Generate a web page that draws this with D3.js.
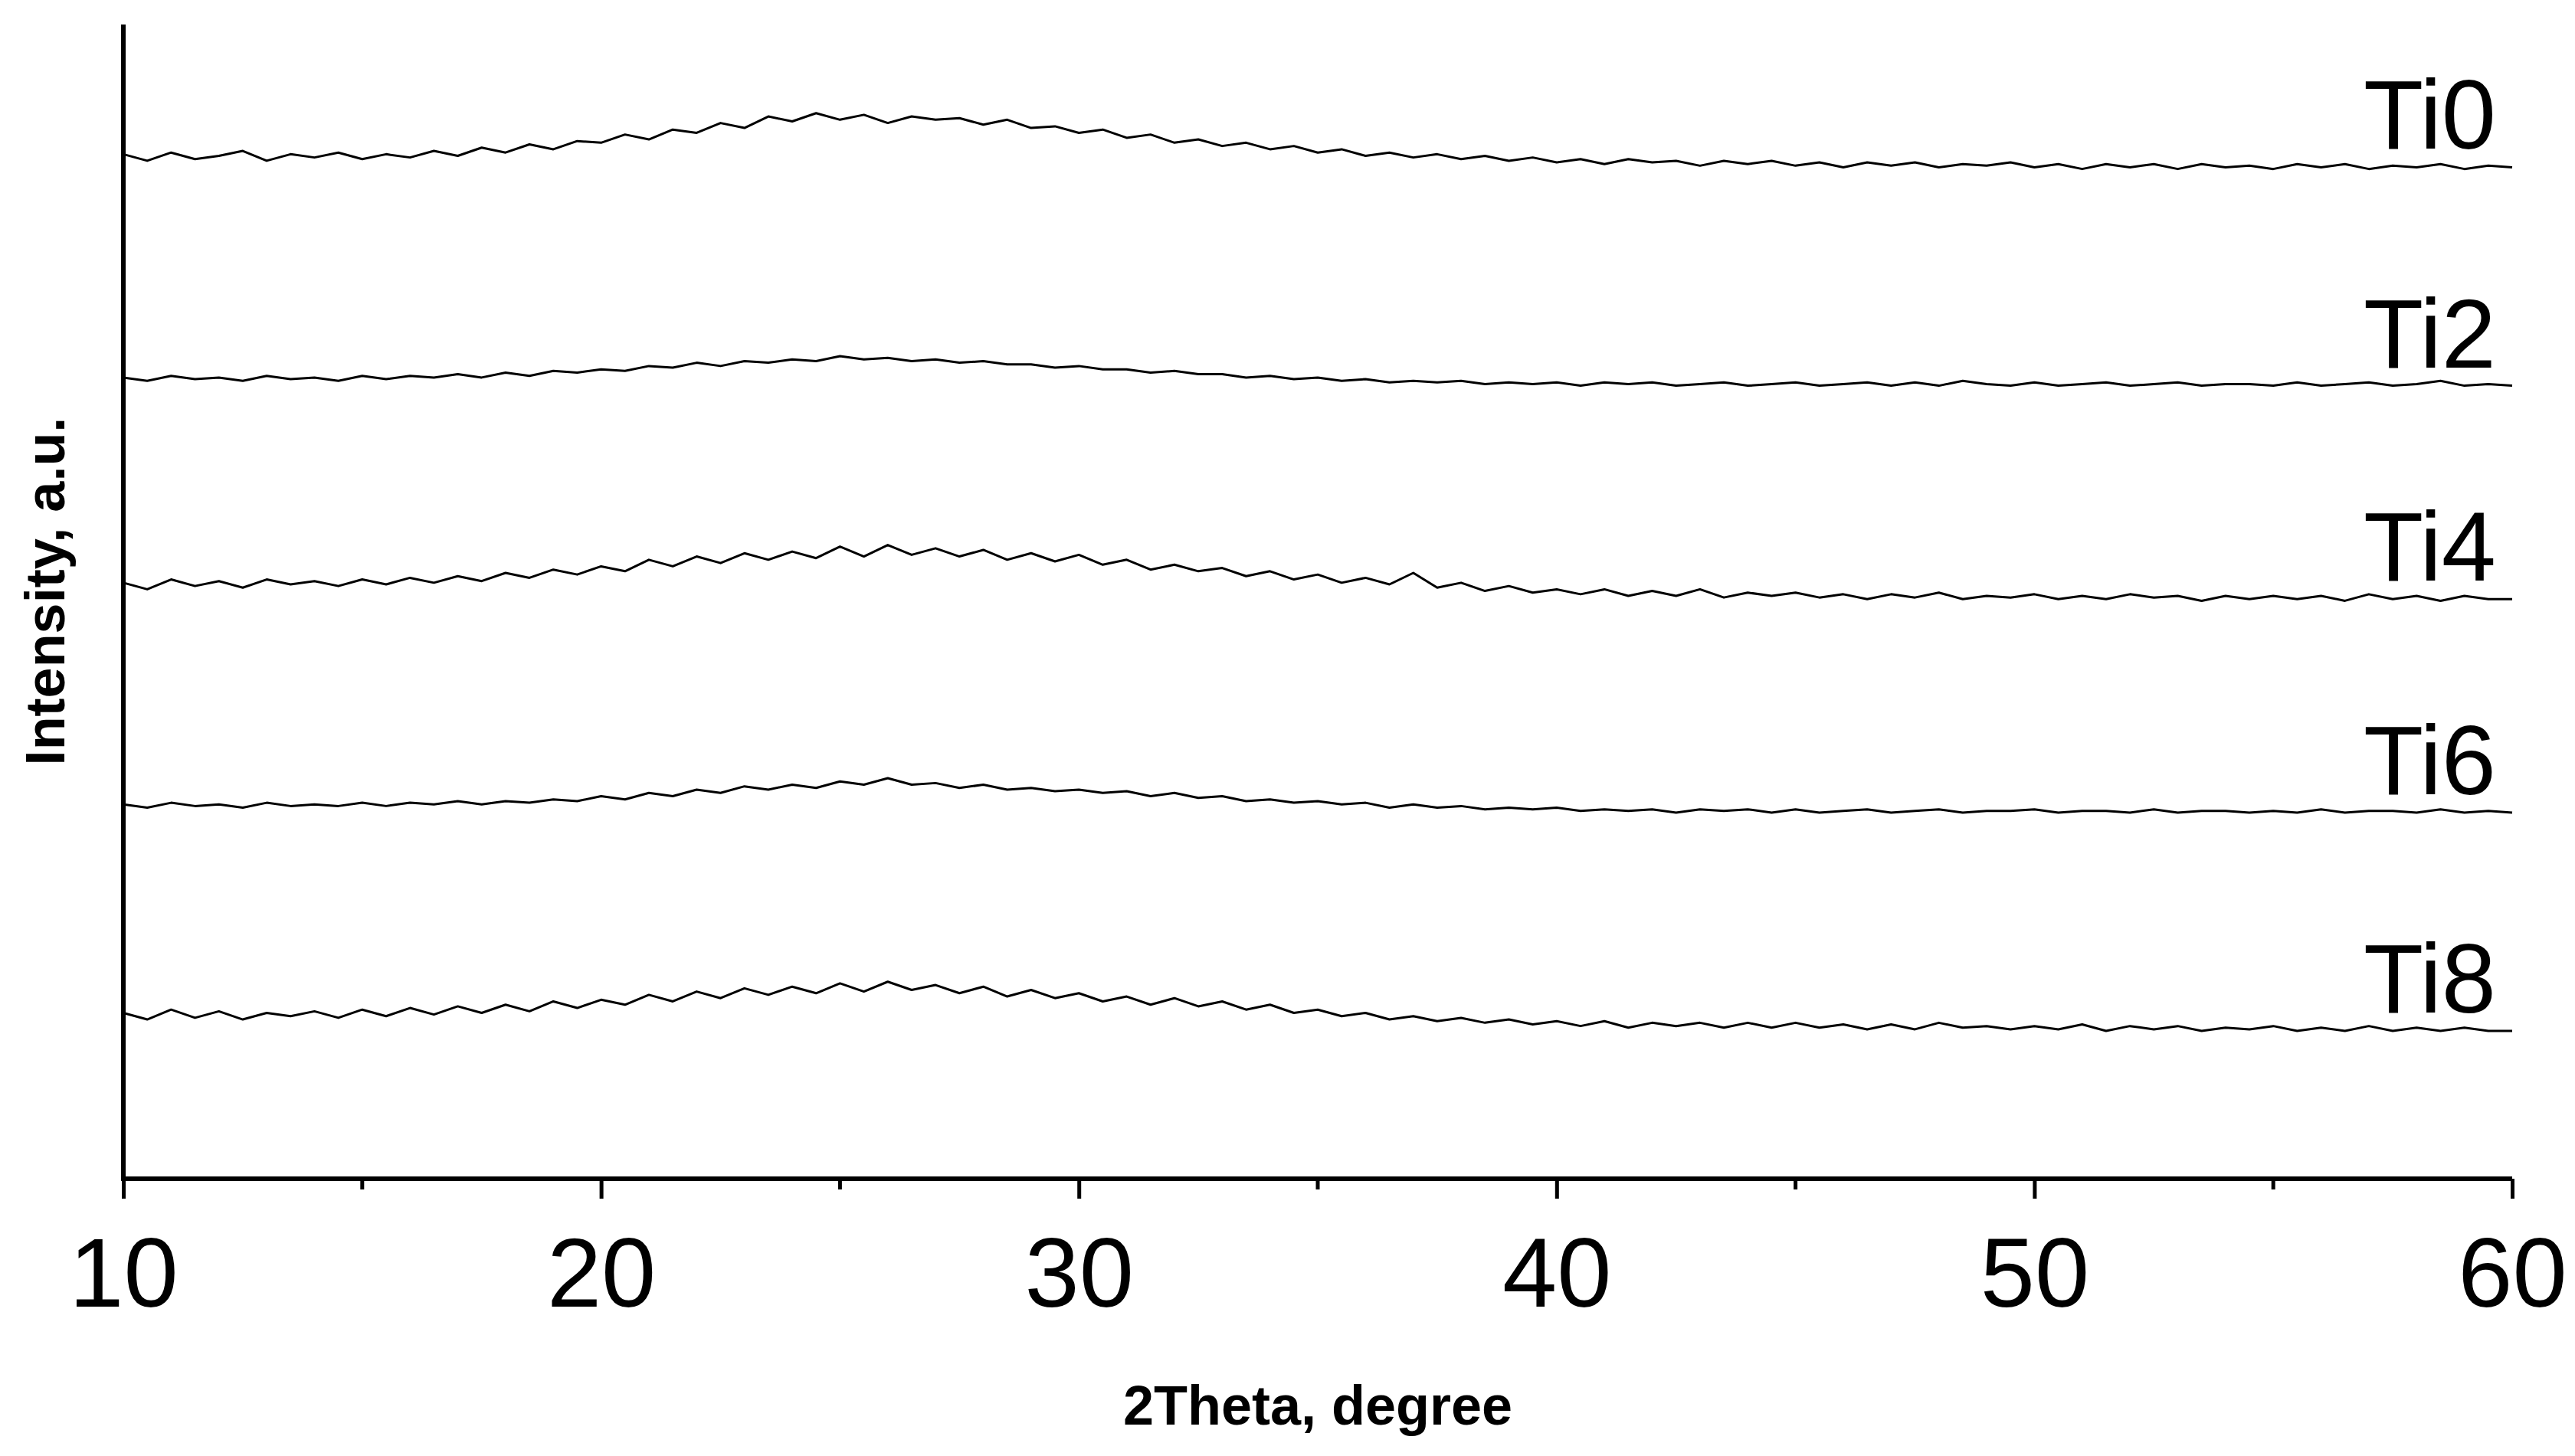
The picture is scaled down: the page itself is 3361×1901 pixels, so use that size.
<!DOCTYPE html>
<html><head><meta charset="utf-8">
<script src="https://cdn.jsdelivr.net/npm/d3@7"></script>
<style>body{margin:0;background:#fff}</style></head>
<body><svg id="c" width="3361" height="1901"></svg>
<script>
const seriesNames=["Ti0","Ti2","Ti4","Ti6","Ti8"];
const offsets=[616,483,353,223,90];
const xStart=10, xStep=0.5;
const xTicks=[10,20,30,40,50,60];
const minorTicks=[15,25,35,45,55];
const Ti0=[8,4,9,5,7,10,4,8,6,9, 5,8,6,10,7,12,9,14,11,16, 15,20,17,23,21,27,24,31,28,33, 29,32,27,31,29,30,26,29,24,25, 21,23,18,20,15,17,13,15,11,13, 9,11,7,9,6,8,5,7,4,6, 3,5,2,5,3,4,1,4,2,4, 1,3,0,3,1,3,0,2,1,3, 0,2,-1,2,0,2,-1,2,0,1, -1,2,0,2,-1,1,0,2,-1,1, 0];
const Ti2=[5,3,6,4,5,3,6,4,5,3, 6,4,6,5,7,5,8,6,9,8, 10,9,12,11,14,12,15,14,16,15, 18,16,17,15,16,14,15,13,13,11, 12,10,10,8,9,7,7,5,6,4, 5,3,4,2,3,2,3,1,2,1, 2,0,2,1,2,0,1,2,0,1, 2,0,1,2,0,2,0,3,1,0, 2,0,1,2,0,1,2,0,1,1, 0,2,0,1,2,0,1,3,0,1, 0];
const Ti4=[10,6,12,8,11,7,12,9,11,8, 12,9,13,10,14,11,16,13,18,15, 20,17,24,20,26,22,28,24,29,25, 32,26,33,27,31,26,30,24,28,23, 27,21,24,18,21,17,19,14,17,12, 15,10,13,9,16,7,10,5,8,4, 6,3,6,2,5,2,6,1,4,2, 4,1,3,0,3,1,4,0,2,1, 3,0,2,0,3,1,2,-1,2,0, 2,0,2,-1,3,0,2,-1,2,0, 0];
const Ti6=[5,3,6,4,5,3,6,4,5,4, 6,4,6,5,7,5,7,6,8,7, 10,8,12,10,14,12,16,14,17,15, 19,17,21,17,18,15,17,14,15,13, 14,12,13,10,12,9,10,7,8,6, 7,5,6,3,5,3,4,2,3,2, 3,1,2,1,2,0,2,1,2,0, 2,0,1,2,0,1,2,0,1,1, 2,0,1,1,0,2,0,1,1,0, 1,0,2,0,1,1,0,2,0,1, 0];
const Ti8=[11,7,13,8,12,7,11,9,12,8, 13,9,14,10,15,11,16,12,18,14, 19,16,22,18,24,20,26,22,27,23, 29,24,30,25,28,23,27,21,25,20, 23,18,21,16,20,15,18,13,16,11, 13,9,11,7,9,6,8,5,7,4, 6,3,6,2,5,3,5,2,5,2, 5,2,4,1,4,1,5,2,3,1, 3,1,4,0,3,1,3,0,2,1, 3,0,2,0,3,0,2,0,2,0, 0];
const allSeries=[Ti0,Ti2,Ti4,Ti6,Ti8];

const svg=d3.select("#c");
const x=d3.scaleLinear().domain([10,60]).range([161,3279]);
const y=d3.scaleLinear().domain([0,703]).range([1539,32]);
const font="Liberation Sans, Arial, sans-serif";

const line=d3.line().x((d,i)=>x(xStart+i*xStep)).y(d=>y(d));
allSeries.forEach((s,k)=>{
  const vals=s.map(v=>v+offsets[k]);
  svg.append("path").attr("d",line(vals)).attr("fill","none").attr("stroke","#000").attr("stroke-width",3).attr("stroke-linejoin","round");
  svg.append("text").attr("x",3258).attr("y",y(offsets[k])-24)
    .attr("text-anchor","end").attr("font-family",font).attr("font-size",128).text(seriesNames[k]);
});

const xa=svg.append("g").attr("transform","translate(0,1539)")
  .call(d3.axisBottom(x).tickValues(xTicks).tickSize(26).tickPadding(50).tickFormat(d3.format("d")));
xa.select(".domain").attr("stroke-width",6).attr("d","M161,0H3279");
xa.selectAll(".tick line").attr("stroke-width",5);
xa.selectAll("text").attr("font-family",font).attr("font-size",128);
svg.append("g").attr("transform","translate(0,1539)").selectAll("line").data(minorTicks).join("line")
  .attr("x1",d=>x(d)).attr("x2",d=>x(d)).attr("y1",0).attr("y2",14).attr("stroke","#000").attr("stroke-width",5);
svg.append("line").attr("x1",161).attr("x2",161).attr("y1",32).attr("y2",1542).attr("stroke","#000").attr("stroke-width",6);

svg.append("text").attr("x",(161+3279)/2).attr("y",1860).attr("text-anchor","middle")
  .attr("font-family",font).attr("font-weight","bold").attr("font-size",72).text("2Theta, degree");
svg.append("text").attr("transform","translate(84,772) rotate(-90)").attr("text-anchor","middle")
  .attr("font-family",font).attr("font-weight","bold").attr("font-size",72).text("Intensity, a.u.");
</script></body></html>
